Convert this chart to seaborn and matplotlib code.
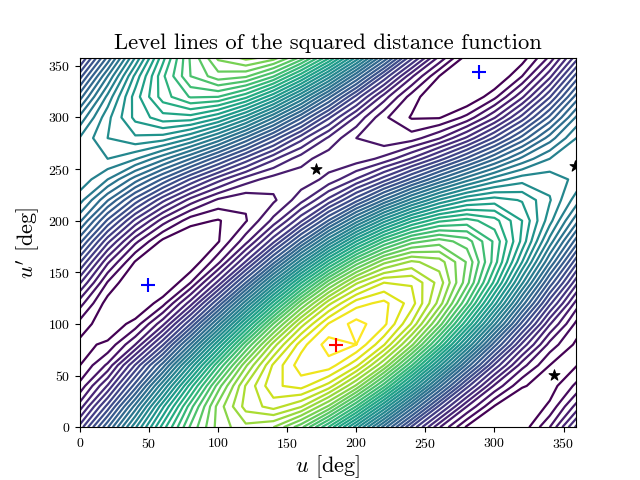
import numpy as np
import matplotlib
matplotlib.use("Agg")
import matplotlib.pyplot as plt
import seaborn as sns

# contour count at each node, hand (20 deg steps, u' rows, u columns)
row_000 = [7.4, 12.9, 18.8, 24.5, 29.2, 32.4, 33.7, 33.0, 30.3, 25.9, 20.4, 14.5, 8.8, 4.1, 0.8, -0.5, 0.3, 3.0]
row_020 = [4.5, 9.4, 15.4, 21.8, 27.6, 32.4, 35.4, 36.4, 35.1, 31.8, 26.9, 20.9, 14.6, 8.7, 4.0, 0.9, 0.0, 1.2]
row_040 = [2.3, 6.1, 11.5, 17.9, 24.5, 30.5, 35.1, 37.8, 38.4, 36.6, 32.8, 27.4, 21.0, 14.4, 8.4, 3.8, 1.1, 0.5]
row_060 = [1.0, 3.2, 8.1, 13.5, 20.2, 26.9, 32.8, 37.2, 39.6, 39.6, 37.3, 33.0, 27.1, 20.4, 13.7, 7.8, 3.4, 1.0]
row_080 = [0.7, 1.2, 4.0, 8.9, 15.1, 22.0, 28.8, 34.5, 38.6, 40.5, 40.0, 37.1, 32.3, 26.1, 19.2, 12.4, 6.7, 2.6]
row_100 = [1.6, 0.2, 1.4, 4.7, 10.0, 16.5, 23.5, 30.1, 35.5, 39.1, 40.4, 39.3, 35.9, 30.6, 24.1, 17.2, 10.6, 5.1]
row_120 = [3.4, 0.5, -0.2, 1.6, 5.5, 11.1, 17.7, 24.5, 30.8, 35.7, 38.6, 39.3, 37.5, 33.6, 28.0, 21.4, 14.6, 8.3]
row_140 = [6.1, 1.9, -0.3, -0.3, 2.0, 6.3, 12.0, 18.5, 24.9, 30.6, 34.8, 37.0, 36.9, 34.6, 30.4, 24.7, 18.2, 11.7]
row_160 = [9.1, 4.2, 0.9, -0.6, 0.1, 2.7, 7.1, 12.6, 18.6, 24.4, 29.3, 32.7, 34.2, 33.5, 30.9, 26.5, 21.0, 15.0]
row_180 = [12.3, 7.3, 3.3, 0.7, -0.1, 0.9, 3.6, 7.7, 12.7, 18.0, 23.0, 27.0, 29.6, 30.5, 29.5, 26.8, 22.7, 17.6]
row_200 = [15.2, 10.8, 6.7, 3.5, 1.4, 0.9, 1.9, 4.3, 7.8, 12.1, 16.5, 20.6, 23.8, 25.8, 26.4, 25.4, 23.0, 19.4]
row_220 = [17.4, 14.1, 10.6, 7.3, 4.6, 2.8, 2.2, 2.8, 4.6, 7.3, 10.6, 14.1, 17.4, 20.1, 21.9, 22.5, 21.9, 20.1]
row_240 = [18.7, 17.0, 14.5, 11.8, 8.9, 6.4, 4.5, 3.5, 3.4, 4.3, 6.1, 8.5, 11.3, 14.1, 16.6, 18.5, 19.6, 19.6]
row_260 = [19.0, 19.0, 18.1, 16.3, 14.0, 11.3, 8.6, 6.2, 4.4, 3.4, 3.4, 4.3, 6.1, 8.5, 11.2, 13.9, 16.3, 18.0]
row_280 = [18.1, 20.0, 20.8, 20.5, 19.1, 16.8, 13.8, 10.6, 7.4, 4.8, 3.0, 2.2, 2.5, 3.9, 6.2, 9.2, 12.4, 15.5]
row_300 = [16.3, 19.7, 22.3, 23.6, 23.6, 22.2, 19.6, 16.1, 12.2, 8.2, 4.8, 2.2, 0.9, 0.9, 2.3, 4.9, 8.4, 12.3]
row_320 = [13.6, 18.3, 22.5, 25.5, 27.1, 27.0, 25.3, 22.2, 18.0, 13.3, 8.6, 4.5, 1.5, -0.1, -0.1, 1.7, 4.8, 8.9]
row_340 = [10.6, 16.0, 21.3, 25.8, 29.0, 30.6, 30.2, 28.1, 24.3, 19.5, 14.1, 8.8, 4.2, 1.0, -0.5, -0.2, 2.0, 5.7]

grid_deg = list(range(0, 361, 20))
levels = list(range(1, 41))

star_u = [171, 358, 343]
star_up = [250, 253, 51]
min_u = [49, 289]
min_up = [138, 344]
max_u = [185]
max_up = [80]

plt.rcParams['font.family'] = ['cmr10', 'DejaVu Serif']
plt.rcParams['mathtext.fontset'] = 'cm'
plt.rcParams['axes.formatter.use_mathtext'] = True

rows = [row_000, row_020, row_040, row_060, row_080, row_100, row_120, row_140, row_160,
        row_180, row_200, row_220, row_240, row_260, row_280, row_300, row_320, row_340]
# last row and column repeat the first ones, the angles wrap at 360
z = np.array(rows)
z = np.hstack([z, z[:, :1]])
z = np.vstack([z, z[:1, :]])

fig, ax = plt.subplots(figsize=(6.4, 4.8), dpi=100)
ax.contour(grid_deg, grid_deg, z, levels=levels, cmap=sns.color_palette("viridis", as_cmap=True), linewidths=1.6)

sns.scatterplot(x=star_u, y=star_up, marker='*', color='k', edgecolor='k', s=70, ax=ax, zorder=3)
sns.scatterplot(x=min_u, y=min_up, marker='+', color='b', s=100, linewidth=1.5, ax=ax, zorder=3)
sns.scatterplot(x=max_u, y=max_up, marker='+', color='r', s=100, linewidth=1.5, ax=ax, zorder=3)

ax.set_xlim(0, 359)
ax.set_ylim(0, 358)
ax.set_xticks(range(0, 351, 50))
ax.set_yticks(range(0, 351, 50))
ax.set_title('Level lines of the squared distance function', fontsize=16.3)
ax.set_xlabel(r"$u$ [deg]", fontsize=16, labelpad=2)
ax.set_ylabel(r"$u'$ [deg]", fontsize=16)

plt.savefig('out.png')
plt.close()
